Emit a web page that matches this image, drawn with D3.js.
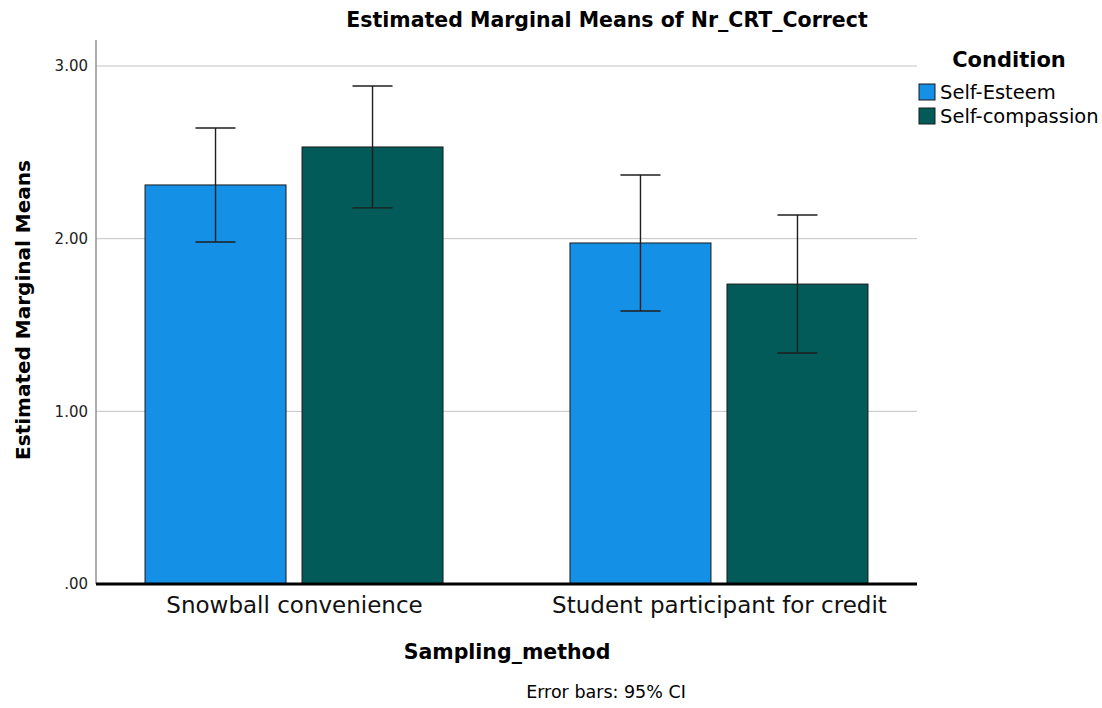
<!DOCTYPE html>
<html>
<head>
<meta charset="utf-8">
<script src="https://cdn.jsdelivr.net/npm/d3@7"></script>
<style>
  body { margin: 0; background: #fff; }
  svg { display: block; }
</style>
</head>
<body>
<svg id="chart" width="1102" height="708"></svg>
<script>
// Estimated marginal means by sampling method and condition
const samplingMethods = ["Snowball convenience", "Student participant for credit"];
const conditions = ["Self-Esteem", "Self-compassion"];
const meansSelfEsteem = [2.311, 1.975];
const meansSelfCompassion = [2.531, 1.737];
const ciLowSelfEsteem = [1.981, 1.581];
const ciHighSelfEsteem = [2.641, 2.369];
const ciLowSelfCompassion = [2.178, 1.338];
const ciHighSelfCompassion = [2.884, 2.137];
const yTickValues = [0, 1, 2, 3];
const yTickLabels = [".00", "1.00", "2.00", "3.00"];
const conditionColors = ["#1490e6", "#025a59"];

const rows = [];
samplingMethods.forEach((m, i) => {
  rows.push({ method: m, condition: conditions[0], mean: meansSelfEsteem[i], lo: ciLowSelfEsteem[i], hi: ciHighSelfEsteem[i] });
  rows.push({ method: m, condition: conditions[1], mean: meansSelfCompassion[i], lo: ciLowSelfCompassion[i], hi: ciHighSelfCompassion[i] });
});

const svg = d3.select("#chart");
const plot = { left: 96, right: 917, top: 40, bottom: 584 };

const y = d3.scaleLinear().domain([0, 3]).range([plot.bottom, plot.bottom - 3 * 172.67]);
const x0 = d3.scalePoint().domain(samplingMethods).range([plot.left, plot.right]).padding(0.466);
const x1 = d3.scaleBand().domain(conditions).range([-149, 149]).paddingInner(0.102);
const color = d3.scaleOrdinal().domain(conditions).range(conditionColors);

const font = "'DejaVu Sans', sans-serif";

// gridlines
svg.append("g")
  .selectAll("line")
  .data(yTickValues.filter(v => v > 0))
  .join("line")
  .attr("x1", plot.left).attr("x2", plot.right)
  .attr("y1", d => y(d)).attr("y2", d => y(d))
  .attr("stroke", "#c4c4c4").attr("stroke-width", 1);

// y axis
const yAxis = svg.append("g")
  .attr("transform", `translate(${plot.left},0)`)
  .call(d3.axisLeft(y).tickValues(yTickValues).tickFormat((d, i) => yTickLabels[i]).tickSize(0).tickPadding(8));
yAxis.select(".domain").remove();
yAxis.selectAll("text").attr("font-family", font).attr("font-size", 15).attr("fill", "#222");
svg.append("line")
  .attr("x1", plot.left).attr("x2", plot.left)
  .attr("y1", plot.top).attr("y2", plot.bottom)
  .attr("stroke", "#777").attr("stroke-width", 1.2);

// bars
svg.append("g")
  .selectAll("rect")
  .data(rows)
  .join("rect")
  .attr("x", d => x0(d.method) + x1(d.condition))
  .attr("width", x1.bandwidth())
  .attr("y", d => y(d.mean))
  .attr("height", d => y(0) - y(d.mean))
  .attr("fill", d => color(d.condition))
  .attr("stroke", "#1a1a1a").attr("stroke-width", 1);

// error bars (95% CI)
const cap = 20;
const eb = svg.append("g").attr("stroke", "#1e1e1e").attr("stroke-width", 1.4);
rows.forEach(d => {
  const cx = x0(d.method) + x1(d.condition) + x1.bandwidth() / 2;
  eb.append("line").attr("x1", cx).attr("x2", cx).attr("y1", y(d.lo)).attr("y2", y(d.hi));
  eb.append("line").attr("x1", cx - cap).attr("x2", cx + cap).attr("y1", y(d.lo)).attr("y2", y(d.lo));
  eb.append("line").attr("x1", cx - cap).attr("x2", cx + cap).attr("y1", y(d.hi)).attr("y2", y(d.hi));
});

// x axis baseline
svg.append("line")
  .attr("x1", plot.left).attr("x2", plot.right)
  .attr("y1", plot.bottom).attr("y2", plot.bottom)
  .attr("stroke", "#000").attr("stroke-width", 3);

// x category labels
const xAxis = svg.append("g")
  .attr("transform", `translate(0,${plot.bottom})`)
  .call(d3.axisBottom(x0).tickSize(0).tickPadding(13));
xAxis.select(".domain").remove();
xAxis.selectAll("text").attr("font-family", font).attr("font-size", 23).attr("fill", "#111");

// titles
svg.append("text")
  .attr("x", 607).attr("y", 27).attr("text-anchor", "middle")
  .attr("font-family", font).attr("font-weight", "bold").attr("font-size", 20.5)
  .text("Estimated Marginal Means of Nr_CRT_Correct");

svg.append("text")
  .attr("transform", "translate(30,310) rotate(-90)")
  .attr("text-anchor", "middle")
  .attr("font-family", font).attr("font-weight", "bold").attr("font-size", 20)
  .text("Estimated Marginal Means");

svg.append("text")
  .attr("x", 507).attr("y", 659).attr("text-anchor", "middle")
  .attr("font-family", font).attr("font-weight", "bold").attr("font-size", 20.5)
  .text("Sampling_method");

svg.append("text")
  .attr("x", 606).attr("y", 698).attr("text-anchor", "middle")
  .attr("font-family", font).attr("font-size", 17.5)
  .text("Error bars: 95% CI");

// legend
const legend = svg.append("g");
legend.append("text")
  .attr("x", 1009).attr("y", 67).attr("text-anchor", "middle")
  .attr("font-family", font).attr("font-weight", "bold").attr("font-size", 21)
  .text("Condition");
conditions.forEach((c, i) => {
  const ly = 84 + i * 24;
  legend.append("rect")
    .attr("x", 919).attr("y", ly).attr("width", 16).attr("height", 16)
    .attr("fill", color(c)).attr("stroke", "#1a1a1a").attr("stroke-width", 1);
  legend.append("text")
    .attr("x", 940).attr("y", ly + 15)
    .attr("font-family", font).attr("font-size", 19.5)
    .text(c);
});
</script>
</body>
</html>
